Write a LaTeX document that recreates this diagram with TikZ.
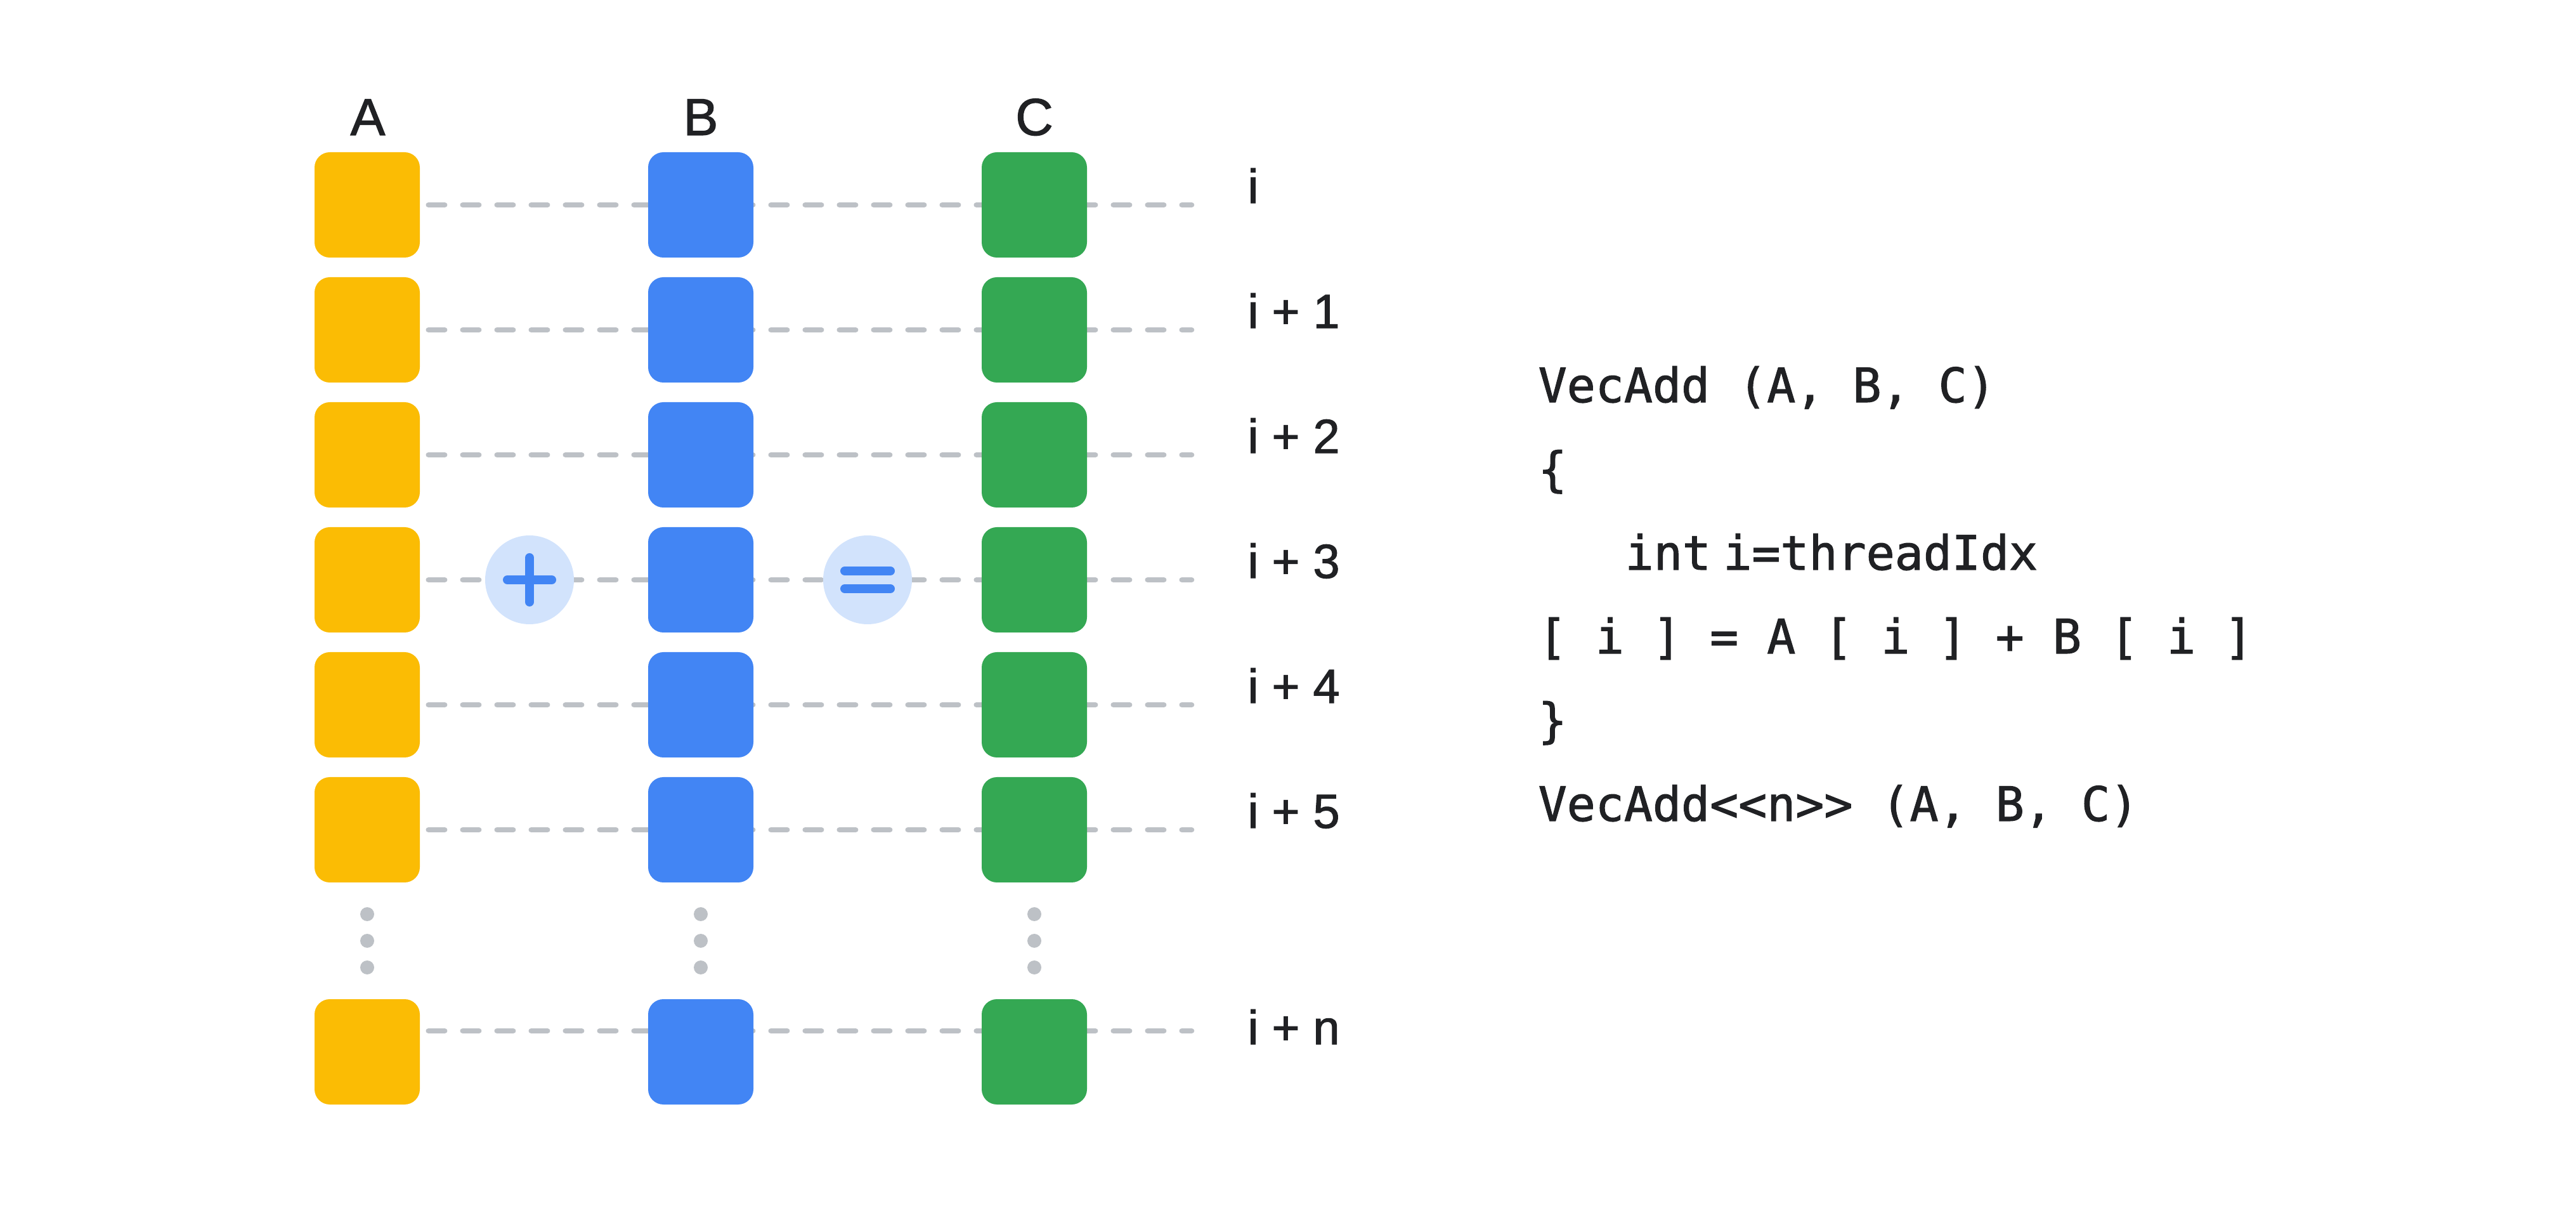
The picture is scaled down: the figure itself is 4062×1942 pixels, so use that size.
\documentclass[tikz,border=0pt]{standalone}
\usepackage{fontspec}
\setmainfont{Liberation Sans}[FakeBold=1.5]
\newfontfamily\labfont{Liberation Sans}[RawFeature={embolden=1.5}]
\newfontfamily\codefont{DejaVu Sans Mono}[RawFeature={embolden=1.5}]
\usetikzlibrary{backgrounds,calc}
\definecolor{cy}{HTML}{FBBC04}
\definecolor{cb}{HTML}{4285F4}
\definecolor{cg}{HTML}{34A853}
\definecolor{cgray}{HTML}{BDC1C6}
\definecolor{clb}{HTML}{D2E3FC}
\definecolor{ctext}{HTML}{202124}
\begin{document}
\begin{tikzpicture}[x=0.1mm,y=-0.1mm,
  cell/.style={minimum width=16.6mm,minimum height=16.6mm,inner sep=0pt,rounded corners=2.4mm},
  yc/.style={cell,fill=cy},
  bc/.style={cell,fill=cb},
  gc/.style={cell,fill=cg},
  guide/.style={draw=cgray,line width=0.85mm,line cap=round,dash pattern=on 2.55mm off 2.85mm},
  head/.style={font=\labfont\fontsize{23.4}{28}\selectfont,text=ctext,inner sep=0pt,anchor=base},
  idx/.style={font=\labfont\fontsize{21.5}{26}\selectfont,text=ctext,inner sep=0pt,anchor=base west},
  code/.style={font=\codefont\fontsize{21.3}{26}\selectfont,text=ctext,inner sep=0pt,anchor=base west},
  opc/.style={circle,fill=clb,minimum size=14mm,inner sep=0pt},
  opline/.style={draw=cb,line width=1.4mm,line cap=round},
  vdot/.style={circle,fill=cgray,minimum size=2.2mm,inner sep=0pt}
]
\useasboundingbox (0,0) rectangle (4062,1942);

% headers
\node[head] (hA) at (580,213) {A};
\node[head] (hB) at (1105,213) {B};
\node[head] (hC) at (1631,213) {C};

% rows
\foreach \r/\y/\lab in {1/323/{i},2/520/{i + 1},3/717/{i + 2},4/914/{i + 3},5/1111/{i + 4},6/1308/{i + 5}} {
  \node[yc] (A\r) at (579,\y) {};
  \node[bc] (B\r) at (1105,\y) {};
  \node[gc] (C\r) at (1631,\y) {};
  \coordinate (E\r) at (1879,\y);
  \pgfmathsetmacro{\ly}{\y-3}
  \node[idx] (L\r) at (1967,\ly) {\lab};
}
\node[yc] (An) at (579,1658) {};
\node[bc] (Bn) at (1105,1658) {};
\node[gc] (Cn) at (1631,1658) {};
\coordinate (En) at (1879,1625);
\node[idx] (Ln) at (1967,1646) {i + n};

% dashed guide lines behind
\begin{pgfonlayer}{background}
  \foreach \r in {1,...,6} {
    \draw[guide] ([xshift=1.3mm]A\r.east) -- (E\r);
  }
  \draw[guide] ($(An.east |- En)+(13,0)$) -- (En);
\end{pgfonlayer}

% vertical dots
\foreach \c/\x in {A/579,B/1105,C/1631} {
  \node[vdot] (d\c1) at (\x,1441) {};
  \node[vdot] (d\c2) at (\x,1483) {};
  \node[vdot] (d\c3) at (\x,1525) {};
}

% operators
\node[opc] (plus) at (835,914) {};
\draw[opline] ($(plus)+(-35,0)$) -- ($(plus)+(35,0)$);
\draw[opline] ($(plus)+(0,-35)$) -- ($(plus)+(0,35)$);
\node[opc] (eq) at (1368,914) {};
\draw[opline] ($(eq)+(-36,-14)$) -- ($(eq)+(36,-14)$);
\draw[opline] ($(eq)+(-36,14)$) -- ($(eq)+(36,14)$);

% code
\node[code] (K1) at (2425,634) {VecAdd (A, B, C)};
\node[code] (K2) at (2425,766) {\{};
\node[code] (K3) at (2562,898) {int\hspace{0.26em}i=threadIdx};
\node[code] (K4) at (2425,1030) {[ i ] = A [ i ] + B [ i ]};
\node[code] (K5) at (2425,1162) {\}};
\node[code] (K6) at (2425,1294) {VecAdd\textless\textless n\textgreater\textgreater{} (A, B, C)};
\end{tikzpicture}
\end{document}
